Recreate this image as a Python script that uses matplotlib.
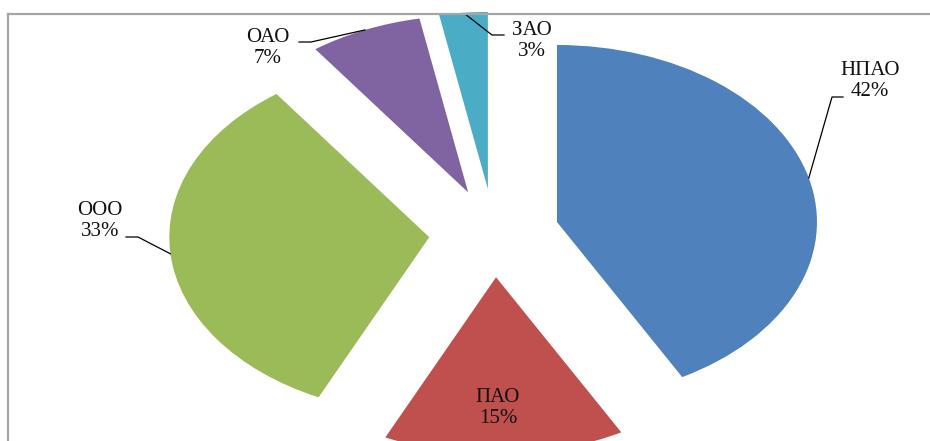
import matplotlib
matplotlib.use("Agg")
import matplotlib.pyplot as plt
import numpy as np

# share of companies by legal form, %
labels = ['НПАО', 'ПАО', 'ООО', 'ОАО', 'ЗАО']
shares = [42, 15, 33, 7, 3]
colors = ['#4F81BD', '#C0504D', '#9BBB59', '#8064A2', '#4BACC6']

W, H = 930, 441
CX, CY = 494, 233      # pie centre, pixels
RX, RY = 260, 177      # pie radii, pixels (the picture is stretched sideways)


def px(x, y):
	# pixel position -> data coords of the pie axes
	return (x - CX) / RX, (CY - y) / RY


plt.rcParams['font.family'] = ['Liberation Serif', 'DejaVu Serif']

fig = plt.figure(figsize=(W / 100, H / 100), dpi=100)
ax = fig.add_axes([8 / W, 0, 1 - 8 / W, (H - 14) / H])

wedges, _ = ax.pie(shares, colors=colors, startangle=90, counterclock=False,
	explode=[0.25] * len(shares), radius=1, frame=True,
	wedgeprops={'linewidth': 0})
ax.set_aspect('auto')
x0, _ = px(8, 0)
x1, _ = px(W, 0)
_, y0 = px(0, H)
_, y1 = px(0, 14)
ax.set_xlim(x0, x1)
ax.set_ylim(y0, y1)
ax.set_xticks([])
ax.set_yticks([])
for side in ['right', 'bottom']:
	ax.spines[side].set_visible(False)
for side in ['top', 'left']:
	ax.spines[side].set_color('#a6a6a6')
	ax.spines[side].set_linewidth(1.6)

# label layout: text centre, elbow of leader, end of leader (pixels); None = inside
layout = {
	'НПАО': ((870, 81), (832, 97), (843, 97)),
	'ПАО': ((498, 408), None, None),
	'ООО': ((100, 221), (138, 237), (126, 237)),
	'ОАО': ((268, 48), (311, 42), (299, 42)),
	'ЗАО': ((532, 41), (492, 35), (504, 35)),
}

for w, lab, val in zip(wedges, labels, shares):
	txt, elbow, end = layout[lab]
	tx, ty = px(*txt)
	ax.text(tx, ty, f"{lab}\n{val}%", ha='center', va='center',
		multialignment='center', fontsize=15, color='#111111', linespacing=1.1)
	if elbow is None:
		continue
	mid = np.deg2rad((w.theta1 + w.theta2) / 2)
	ax_, ay_ = w.center[0] + w.r * np.cos(mid), w.center[1] + w.r * np.sin(mid)
	ex, ey = px(*elbow)
	fx, fy = px(*end)
	ax.plot([ax_, ex, fx], [ay_, ey, fy], color='black', lw=0.9)

fig.savefig('out.png', dpi=100)
